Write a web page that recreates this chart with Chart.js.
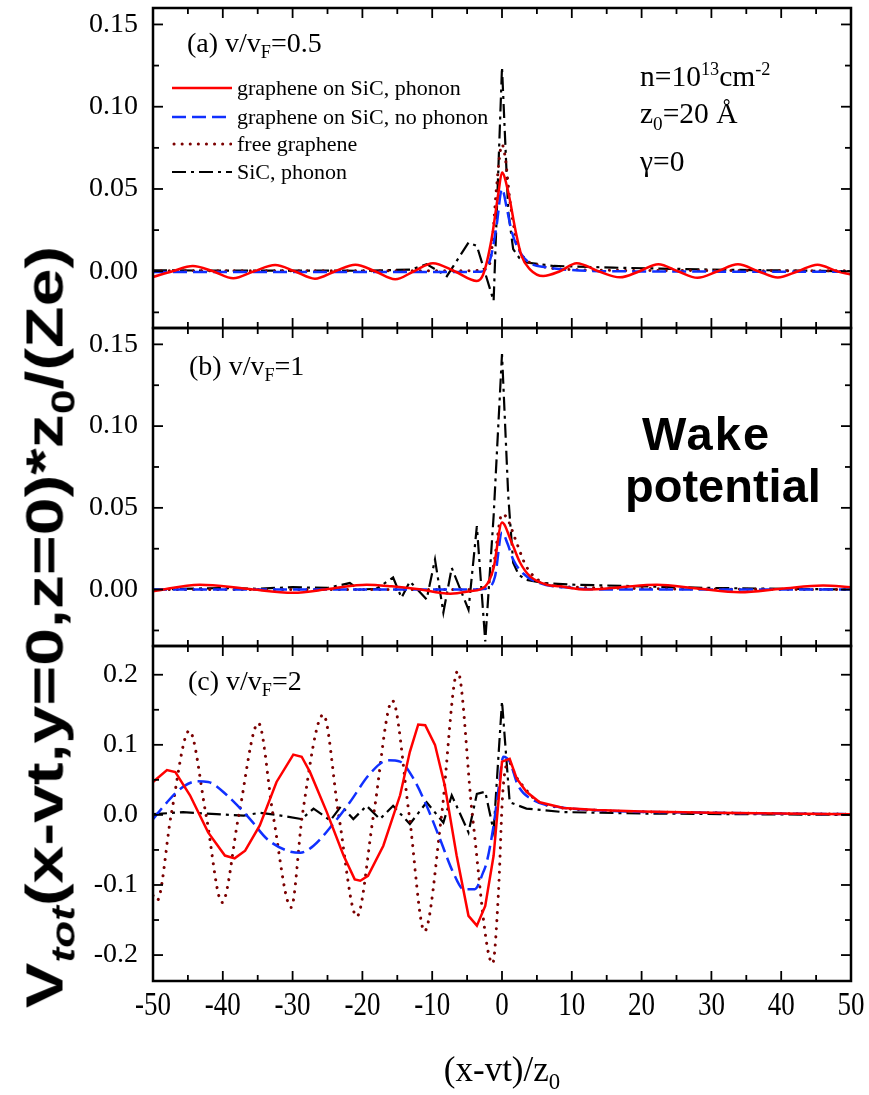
<!DOCTYPE html>
<html>
<head>
<meta charset="utf-8">
<script src="https://cdn.jsdelivr.net/npm/chart.js@4.4.1/dist/chart.umd.min.js"></script>
<style>
  html, body { margin: 0; padding: 0; background: #fff; }
  #wrap { position: relative; width: 869px; height: 1095px; overflow: hidden; }
  #wrap canvas { position: absolute; left: 0; top: 0; }
  .t { position: absolute; font-family: "Liberation Serif", "Times New Roman", serif; color: #000; white-space: nowrap; line-height: 1; }
  .sub { font-size: 0.65em; position: relative; top: 0.35em; }
  .sup { font-size: 0.62em; position: relative; top: -0.62em; }
  .panel { font-size: 28px; }
  .note { font-size: 29.5px; }
  .leg { position: absolute; left: 172px; font-family: "Liberation Serif", serif; font-size: 22px; line-height: 22px; height: 22px; white-space: nowrap; }
  .leg svg { vertical-align: top; margin-right: 5px; }
  .wake { position: absolute; font-family: "Liberation Sans", Arial, sans-serif; font-weight: bold; font-size: 47px; line-height: 1; }
  #ytitle { position: absolute; left: 45px; top: 627px; font-family: "Liberation Sans", Arial, sans-serif; font-weight: bold; font-size: 51px; line-height: 1; white-space: nowrap; transform: translate(-50%, -50%) rotate(-90deg) scaleX(1.335); }
  #xtitle { position: absolute; left: 502px; top: 1052px; transform: translateX(-50%); font-size: 35px; }
</style>
</head>
<body>
<div id="wrap">
  <canvas id="wake" width="869" height="1095"></canvas>

  <div class="t panel" style="left:187px; top:29px;">(a) v/v<span class="sub">F</span>=0.5</div>
  <div class="t panel" style="left:189px; top:352px;">(b) v/v<span class="sub">F</span>=1</div>
  <div class="t panel" style="left:188px; top:667px;">(c) v/v<span class="sub">F</span>=2</div>

  <div class="leg" style="top:77px;"><svg width="60" height="22"><line x1="0" y1="11" x2="60" y2="11" stroke="#ff0000" stroke-width="2.5"/></svg>graphene on SiC, phonon</div>
  <div class="leg" style="top:106px;"><svg width="60" height="22"><line x1="0" y1="11" x2="60" y2="11" stroke="#1030ff" stroke-width="2.5" stroke-dasharray="14 6"/></svg>graphene on SiC, no phonon</div>
  <div class="leg" style="top:133px;"><svg width="60" height="22"><line x1="2" y1="11" x2="60" y2="11" stroke="#7b0000" stroke-width="3" stroke-linecap="round" stroke-dasharray="0.1 8"/></svg>free graphene</div>
  <div class="leg" style="top:161px;"><svg width="60" height="22"><line x1="0" y1="11" x2="60" y2="11" stroke="#000" stroke-width="2.2" stroke-dasharray="14 5 3 5"/></svg>SiC, phonon</div>

  <div class="t note" style="left:640px; top:62px;">n=10<span class="sup">13</span>cm<span class="sup">-2</span></div>
  <div class="t note" style="left:640px; top:99px;">z<span class="sub">0</span>=20 Å</div>
  <div class="t note" style="left:640px; top:147px;">γ=0</div>

  <div class="wake" style="left:642px; top:410px; letter-spacing:2px;">Wake</div>
  <div class="wake" style="left:625px; top:462px;">potential</div>

  <div id="ytitle">V<span class="sub" style="font-style:italic;">tot</span>(x-vt,y=0,z=0)*z<span class="sub">0</span>/(Ze)</div>
  <div class="t" id="xtitle">(x-vt)/z<span class="sub">0</span></div>
</div>

<script>
// tick values
const xTicks = [-50, -40, -30, -20, -10, 0, 10, 20, 30, 40, 50];
const abTicks = [0, 0.05, 0.10, 0.15];
const cTicks = [-0.2, -0.1, 0.0, 0.1, 0.2];

// (a) v/vF = 0.5
const aRedX = [-50, -47.2, -44.3, -41.4, -38.5, -35.5, -32.5, -29.7, -26.8, -23.9, -21, -18.2, -15.3, -12.6, -9.9, -6.8, -3.6, -2.7, -1.5, -0.5, 0, 0.9, 1.9, 2.8, 4, 5.9, 8.3, 10.7, 13.8, 16.9, 19.7, 22.4, 25.2, 28, 30.9, 33.8, 36.7, 39.5, 42.4, 45.2, 48, 50];
const aRedY = [-0.0035, 0, 0.0032, 0, -0.0043, 0, 0.0038, 0, -0.0045, 0, 0.004, 0, -0.0049, 0, 0.0049, 0, -0.0059, -0.002, 0.0195, 0.048, 0.060, 0.048, 0.0255, 0.0093, 0.0012, -0.0029, 0, 0.0049, 0, -0.0037, 0, 0.0043, 0, -0.004, 0, 0.0042, 0, -0.0038, 0, 0.004, 0, -0.002];
const aBlueX = [-50, -10, -3, -1.7, -0.8, 0, 0.7, 1.4, 2.6, 4, 6.4, 10, 15, 50];
const aBlueY = [-0.0005, -0.0005, -0.0003, 0.007, 0.027, 0.050, 0.038, 0.024, 0.0115, 0.005, 0.0024, 0.0007, 0, -0.0003];
const aFreeX = [-50, -5, -2, -1.5, -0.8, 0, 0.5, 1.1, 2.1, 3, 5, 10, 20, 50];
const aFreeY = [0.0003, 0.0003, 0.002, 0.012, 0.05, 0.077, 0.068, 0.044, 0.019, 0.009, 0.004, 0.001, 0.0005, 0.0003];
const aSicX = [-50, -20, -13, -10.8, -7.9, -4.8, -3.6, -1.2, 0, 0.9, 1.6, 2.5, 3.5, 7.4, 15.9, 30, 50];
const aSicY = [0.0005, 0.0003, 0.001, 0.0043, -0.003, 0.0174, 0.0154, -0.018, 0.124, 0.036, 0.0134, 0.008, 0.0053, 0.0032, 0.0022, 0.001, 0];

// (b) v/vF = 1
const bRedX = [-50, -43.3, -36.6, -29.9, -24.6, -19.4, -15.8, -12.2, -7.4, -4.6, -2.4, -1.2, 0, 1.4, 2.6, 4, 6.4, 8.3, 12.1, 17, 22.2, 28, 34.1, 40, 46, 50];
const bRedY = [-0.001, 0.003, 0.0005, -0.002, 0.0005, 0.003, 0.002, 0.0004, -0.0025, -0.001, 0.002, 0.0133, 0.041, 0.0286, 0.0164, 0.0082, 0.003, 0.002, 0.0, 0.0015, 0.003, 0.0007, -0.0016, 0.0005, 0.0025, 0.0015];
const bBlueX = [-50, -4, -2, -1, 0, 0.8, 1.6, 3, 5.4, 10, 15, 50];
const bBlueY = [0, 0, 0.001, 0.008, 0.035, 0.028, 0.0184, 0.010, 0.004, 0.001, 0, 0];
const bFreeX = [-50, -3, -2, -1.2, 0, 0.7, 1.4, 2.1, 3.5, 6, 10, 50];
const bFreeY = [0, 0, 0.003, 0.015, 0.046, 0.044, 0.0368, 0.0286, 0.014, 0.004, 0.0015, 0];
const bSicX = [-50, -40, -35, -30, -25, -21.8, -20.5, -18, -15.6, -14.4, -13.2, -10.8, -9.6, -8.4, -7.2, -4.8, -3.6, -2.4, -1.2, 0, 0.9, 1.6, 2.4, 3.5, 6, 10, 20, 30, 50];
const bSicY = [0, 0.001, 0.0005, 0.0015, 0.001, 0.004, 0, 0.0005, 0.0074, -0.005, 0.005, -0.006, 0.0184, -0.014, 0.0133, -0.0123, 0.0388, -0.0317, 0.045, 0.144, 0.057, 0.0164, 0.009, 0.006, 0.004, 0.003, 0.002, 0.001, 0];

// (c) v/vF = 2
const cRedX = [-50, -48, -46.8, -44.7, -42.1, -39.7, -38.3, -36.8, -34.7, -32.3, -29.9, -28.7, -27.5, -25.1, -22.7, -21.1, -20.3, -19.2, -17, -14.6, -13.2, -12, -11, -9.6, -8.2, -6.5, -4.8, -3.6, -2.4, -1.2, 0, 1.1, 2.1, 3.5, 5.4, 8.8, 13.6, 20, 30, 40, 50];
const cRedY = [0.047, 0.064, 0.061, 0.028, -0.025, -0.058, -0.062, -0.051, -0.015, 0.047, 0.086, 0.083, 0.061, 0.004, -0.058, -0.092, -0.094, -0.087, -0.044, 0.028, 0.09, 0.129, 0.128, 0.1, 0.042, -0.058, -0.144, -0.158, -0.13, -0.058, 0.076, 0.080, 0.052, 0.033, 0.018, 0.010, 0.007, 0.005, 0.003, 0.002, 0.001];
const cBlueX = [-50, -48, -45.7, -43.7, -42.1, -39.4, -36.1, -33.7, -30.8, -28.9, -27, -24.2, -21.8, -18.9, -16.3, -14.6, -12.7, -10.8, -8.9, -7, -5.5, -3.9, -2.7, -2.2, -1.2, -0.5, 0.2, 1.1, 2.3, 4.5, 8.3, 15, 30, 50];
const cBlueY = [-0.006, 0.018, 0.04, 0.048, 0.047, 0.028, -0.006, -0.034, -0.051, -0.054, -0.044, -0.013, 0.018, 0.059, 0.078, 0.076, 0.052, 0.013, -0.034, -0.082, -0.106, -0.106, -0.082, -0.068, -0.015, 0.037, 0.083, 0.076, 0.042, 0.021, 0.011, 0.006, 0.003, 0.001];
const cFreeX = [-50, -49.4, -47.4, -44.8, -42.4, -40.1, -37.7, -34.9, -32.8, -30.2, -28.6, -25.6, -23.4, -20.8, -18.4, -15.7, -13.3, -11.1, -8.65, -6.35, -4.25, -1.35, -0.5, 0.1, 1, 2, 3.1, 5, 8, 15, 30, 50];
const cFreeY = [-0.115, -0.122, 0, 0.120, 0, -0.125, 0, 0.131, 0, -0.132, 0, 0.143, 0, -0.145, 0, 0.163, 0, -0.166, 0, 0.205, 0, -0.212, -0.11, 0.03, 0.075, 0.055, 0.04, 0.02, 0.011, 0.006, 0.003, 0.001];
const cSicX = [-50, -45.7, -40.9, -37, -34.7, -32.3, -28.7, -27, -24.6, -23, -21.3, -19.4, -17.5, -15.6, -13.2, -10.8, -8.4, -7.2, -4.8, -3.6, -2.4, -1.2, 0, 1.1, 3.5, 8.8, 20, 35, 50];
const cSicY = [0.001, 0.004, 0.001, -0.001, 0.003, 0, -0.006, 0.009, -0.008, 0.013, -0.006, 0.013, -0.006, 0.013, -0.013, 0.018, -0.011, 0.028, -0.025, 0.030, 0.033, -0.023, 0.162, 0.018, 0.009, 0.004, 0.002, 0.001, 0];

function pts(xs, ys) {
    return xs.map((x, i) => ({ x: x, y: ys[i] }));
}

// line styles of the four cases
const red = { borderColor: "#ff0000", borderWidth: 2.5 };
const blue = { borderColor: "#1030ff", borderWidth: 2.5, borderDash: [14, 6] };
const free = { borderColor: "#7b0000", borderWidth: 3, borderDash: [0.1, 8], borderCapStyle: "round" };
const sic = { borderColor: "#000000", borderWidth: 2.2, borderDash: [14, 5, 3, 5] };

function ds(style, xs, ys, axis, smooth) {
    return Object.assign({
        data: pts(xs, ys),
        yAxisID: axis,
        pointRadius: 0,
        fill: false,
        tension: smooth ? 0.4 : 0,
        cubicInterpolationMode: smooth ? "monotone" : "default"
    }, style);
}

// red first so it is drawn on top
let datasets = [
    ds(red, aRedX, aRedY, "ya", true),
    ds(red, bRedX, bRedY, "yb", true),
    ds(red, cRedX, cRedY, "yc", false),
    ds(blue, aBlueX, aBlueY, "ya", true),
    ds(blue, bBlueX, bBlueY, "yb", true),
    ds(blue, cBlueX, cBlueY, "yc", true),
    ds(free, aFreeX, aFreeY, "ya", true),
    ds(free, bFreeX, bFreeY, "yb", true),
    ds(free, cFreeX, cFreeY, "yc", true),
    ds(sic, aSicX, aSicY, "ya", false),
    ds(sic, bSicX, bSicY, "yb", false),
    ds(sic, cSicX, cSicY, "yc", false)
];

const serif = "'Liberation Serif', 'Times New Roman', serif";

function noPad(s) {
    s.paddingTop = 0;
    s.paddingBottom = 0;
    s.paddingLeft = 0;
    s.paddingRight = 0;
}

function yAxis(min, max, vals, digits, weight, stackW) {
    return {
        type: "linear",
        position: "left",
        stack: "panels",
        stackWeight: stackW,
        weight: weight,
        min: min,
        max: max,
        grid: { display: false, drawTicks: false },
        border: { display: false },
        afterBuildTicks: (s) => { s.ticks = vals.map(v => ({ value: v })); },
        afterFit: (s) => { s.width = 153; noPad(s); },
        ticks: {
            font: { family: serif, size: 28 },
            color: "#000",
            padding: 15,
            callback: (v) => Number(v).toFixed(digits)
        }
    };
}

// box, inward ticks on all four sides of every panel, stretched x labels
const panelFrame = {
    id: "panelFrame",
    afterDatasetsDraw(chart) {
        let ctx = chart.ctx;
        let xs = chart.scales.x;
        ctx.save();
        ctx.strokeStyle = "#000";

        function seg(x1, y1, x2, y2) {
            ctx.beginPath();
            ctx.moveTo(x1, y1);
            ctx.lineTo(x2, y2);
            ctx.stroke();
        }

        ["ya", "yb", "yc"].forEach(id => {
            let ys = chart.scales[id];
            let vals = ys.ticks.map(t => t.value);
            let half = (vals[1] - vals[0]) / 2;

            ctx.lineWidth = 1.8;
            for (let k = -10; k <= 10; k++) {
                let px = xs.getPixelForValue(k * 5);
                let len = (k % 2 === 0) ? 10 : 6;
                seg(px, ys.bottom, px, ys.bottom - len);
                seg(px, ys.top, px, ys.top + len);
            }
            let k0 = Math.ceil(ys.min / half - 1e-6);
            let k1 = Math.floor(ys.max / half + 1e-6);
            for (let k = k0; k <= k1; k++) {
                let py = ys.getPixelForValue(k * half);
                let len = (k % 2 === 0) ? 10 : 6;
                seg(xs.left, py, xs.left + len, py);
                seg(xs.right, py, xs.right - len, py);
            }

            ctx.lineWidth = 2.5;
            ctx.strokeRect(xs.left, ys.top, xs.right - xs.left, ys.bottom - ys.top);
        });

        // x tick labels, drawn a little taller than wide
        ctx.fillStyle = "#000";
        ctx.font = "27px " + serif;
        ctx.textAlign = "center";
        ctx.textBaseline = "middle";
        xTicks.forEach(v => {
            ctx.save();
            ctx.translate(xs.getPixelForValue(v), xs.top + 25);
            ctx.scale(1, 1.28);
            ctx.fillText(String(v), 0, 0);
            ctx.restore();
        });
        ctx.restore();
    }
};

let ctx = document.getElementById("wake");

new Chart(ctx, {
    type: "line",
    data: { datasets: datasets },
    plugins: [panelFrame],
    options: {
        responsive: false,
        animation: false,
        devicePixelRatio: 1,
        layout: { padding: { left: 0, top: 8, right: 18, bottom: 74 } },
        plugins: {
            legend: { display: false },
            tooltip: { enabled: false }
        },
        scales: {
            x: {
                type: "linear",
                min: -50,
                max: 50,
                grid: { display: false, drawTicks: false },
                border: { display: false },
                afterBuildTicks: (s) => { s.ticks = xTicks.map(v => ({ value: v })); },
                afterFit: (s) => { s.height = 40; noPad(s); },
                ticks: { display: false }
            },
            yc: yAxis(-0.237, 0.241, cTicks, 1, 1, 335),
            yb: yAxis(-0.0345, 0.16, abTicks, 2, 2, 318),
            ya: yAxis(-0.0345, 0.16, abTicks, 2, 3, 320)
        }
    }
});
</script>
</body>
</html>
